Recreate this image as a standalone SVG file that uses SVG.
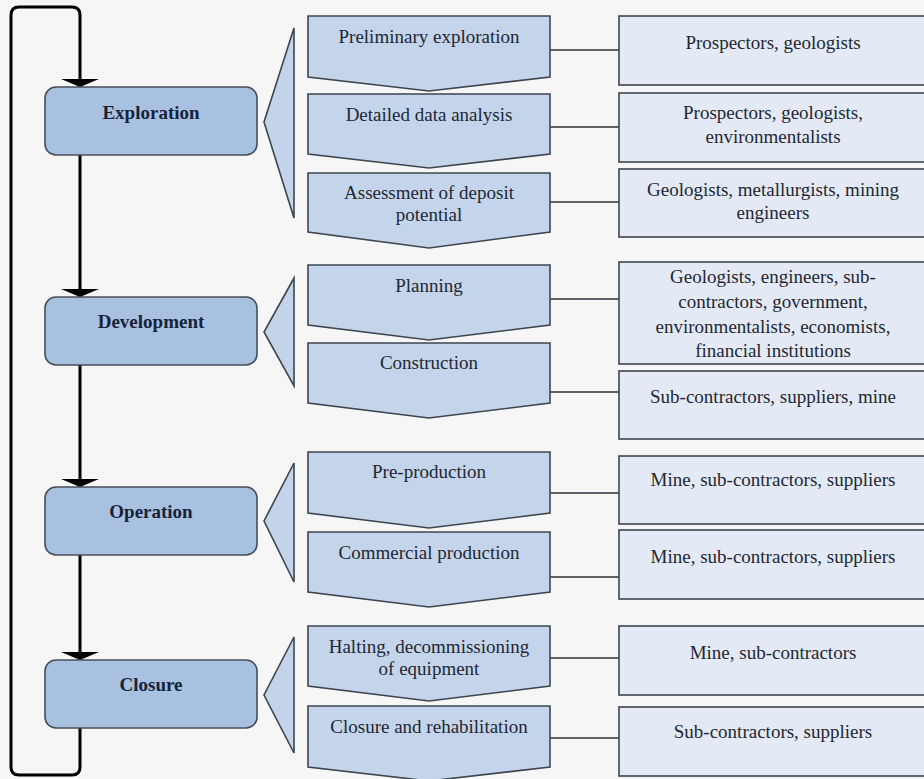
<svg xmlns="http://www.w3.org/2000/svg" width="924" height="779" viewBox="0 0 924 779">
<style>
text{font-family:"Liberation Serif","Times New Roman",serif;font-size:19px;fill:#1f2733;text-anchor:middle}
.stage rect{fill:#a8c1e1;stroke:#474e58;stroke-width:1.6}
.stage text{font-weight:bold;fill:#16233a}
.wedge{fill:#c3d4ea;stroke:#3e454f;stroke-width:1.6}
.chev path{fill:#c4d5eb;stroke:#3e454f;stroke-width:1.6}
.actor rect{fill:#e3eaf5;stroke:#3e454f;stroke-width:1.6}
.link{stroke:#2e333a;stroke-width:1.6;fill:none}
.flow{stroke:#000;stroke-width:3;fill:none}
</style>
<defs>
<marker id="ah" viewBox="0 -19 8 38" markerWidth="8" markerHeight="38" refX="8" refY="0" orient="auto" markerUnits="userSpaceOnUse">
<path d="M0,-19 L8,0 L0,19 Z" fill="#000"/>
</marker>
</defs>
<rect x="0" y="0" width="924" height="779" fill="#f6f6f6"/>

<g id="connectors">
<path class="flow" d="M80,728 L80,767 Q80,775 72,775 L19,775 Q11,775 11,767 L11,15 Q11,7 19,7 L72,7 Q80,7 80,15 L80,87" marker-end="url(#ah)"/>
<path class="flow" d="M80,155 L80,297" marker-end="url(#ah)"/>
<path class="flow" d="M80,365 L80,487" marker-end="url(#ah)"/>
<path class="flow" d="M80,555 L80,660" marker-end="url(#ah)"/>
<path class="link" d="M550,50 H619 M550,127 H619 M550,202 H619 M550,299 H619 M550,392 H619 M550,493 H619 M550,577 H619 M550,658 H619 M550,738 H619"/>
</g>

<g id="exploration" class="stage"><rect x="45" y="87" width="212" height="68" rx="11"/><text x="151" y="119">Exploration</text></g>
<g id="development" class="stage"><rect x="45" y="297" width="212" height="68" rx="11"/><text x="151" y="328">Development</text></g>
<g id="operation" class="stage"><rect x="45" y="487" width="212" height="68" rx="11"/><text x="151" y="518">Operation</text></g>
<g id="closure" class="stage"><rect x="45" y="660" width="212" height="68" rx="11"/><text x="151" y="691">Closure</text></g>

<g id="wedge-exploration"><path class="wedge" d="M294,28 L264,122 L294,218 Z"/></g>
<g id="wedge-development"><path class="wedge" d="M294,278 L264,332 L294,386 Z"/></g>
<g id="wedge-operation"><path class="wedge" d="M294,463 L264,521 L294,582 Z"/></g>
<g id="wedge-closure"><path class="wedge" d="M294,637 L264,695 L294,753 Z"/></g>

<g id="preliminary-exploration" class="chev"><path d="M308,16 H550 V77 L429,91 L308,77 Z"/><text x="429" y="43">Preliminary exploration</text></g>
<g id="detailed-data-analysis" class="chev"><path d="M308,94 H550 V154 L429,168 L308,154 Z"/><text x="429" y="121">Detailed data analysis</text></g>
<g id="assessment" class="chev"><path d="M308,173 H550 V232 L429,248 L308,232 Z"/><text x="429" y="199">Assessment of deposit</text><text x="429" y="221">potential</text></g>
<g id="planning" class="chev"><path d="M308,265 H550 V325 L429,340 L308,325 Z"/><text x="429" y="292">Planning</text></g>
<g id="construction" class="chev"><path d="M308,343 H550 V403 L429,418 L308,403 Z"/><text x="429" y="369">Construction</text></g>
<g id="pre-production" class="chev"><path d="M308,452 H550 V513 L429,528 L308,513 Z"/><text x="429" y="478">Pre-production</text></g>
<g id="commercial-production" class="chev"><path d="M308,532 H550 V592 L429,607 L308,592 Z"/><text x="429" y="559">Commercial production</text></g>
<g id="halting" class="chev"><path d="M308,626 H550 V686 L429,701 L308,686 Z"/><text x="429" y="653">Halting, decommissioning</text><text x="429" y="675">of equipment</text></g>
<g id="closure-rehabilitation" class="chev"><path d="M308,706 H550 V767 L429,781 L308,767 Z"/><text x="429" y="733">Closure and rehabilitation</text></g>

<g id="actors-preliminary" class="actor"><rect x="619" y="16" width="312" height="69"/><text x="773" y="49">Prospectors, geologists</text></g>
<g id="actors-detailed" class="actor"><rect x="619" y="93" width="312" height="69"/><text x="773" y="119">Prospectors, geologists,</text><text x="773" y="143">environmentalists</text></g>
<g id="actors-assessment" class="actor"><rect x="619" y="169" width="312" height="68"/><text x="773" y="196">Geologists, metallurgists, mining</text><text x="773" y="219">engineers</text></g>
<g id="actors-planning" class="actor"><rect x="619" y="262" width="312" height="102"/><text x="773" y="283">Geologists, engineers, sub-</text><text x="773" y="308">contractors, government,</text><text x="773" y="333">environmentalists, economists,</text><text x="773" y="357">financial institutions</text></g>
<g id="actors-construction" class="actor"><rect x="619" y="371" width="312" height="68"/><text x="773" y="403">Sub-contractors, suppliers, mine</text></g>
<g id="actors-pre-production" class="actor"><rect x="619" y="456" width="312" height="68"/><text x="773" y="486">Mine, sub-contractors, suppliers</text></g>
<g id="actors-commercial" class="actor"><rect x="619" y="530" width="312" height="69"/><text x="773" y="563">Mine, sub-contractors, suppliers</text></g>
<g id="actors-halting" class="actor"><rect x="619" y="626" width="312" height="69"/><text x="773" y="659">Mine, sub-contractors</text></g>
<g id="actors-closure" class="actor"><rect x="619" y="707" width="312" height="69"/><text x="773" y="738">Sub-contractors, suppliers</text></g>
</svg>
